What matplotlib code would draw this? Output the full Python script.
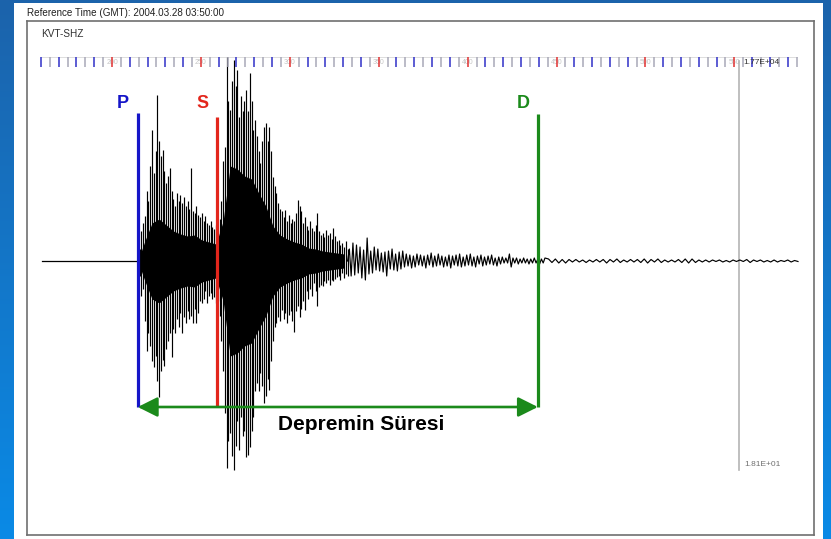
import numpy as np
import matplotlib.pyplot as plt
from matplotlib.colors import LinearSegmentedColormap
from matplotlib.patches import Rectangle

plt.rcParams["font.family"] = ["Liberation Sans", "DejaVu Sans"]

# Header texts of the seismogram viewer.
ref_time = "Reference Time (GMT): 2004.03.28 03:50:00"
station = "KVT-SHZ"
top_scale = "1.77E+04"
bottom_scale = "1.81E+01"
duration_label = "Depremin Süresi"

# Amplitudes below are given in hundreds of counts.
amp_unit = 100

# Times in seconds.
t_start, t_end = 160.5, 585.8
t_P, t_S, t_D = 214.5, 259.0, 439.5
t_cursor = 552.6

pick_names = ["P", "S", "D"]
pick_times = [t_P, t_S, t_D]
pick_tops = [148, 144, 147]
pick_colors = ["#1515c8", "#e3261c", "#1b8a1b"]
arrow_level = -146
label_level = 157

ruler_labels = [200, 250, 300, 350, 400, 450, 500, 550]

# Strong part of the record (P and S waves), one column per second: max / min.
burst_hi = [3, 12, 30, 38, 45, 70, 60, 95, 131, 88,
            110, 166, 120, 105, 111, 90, 78, 85, 93, 70,
            62, 55, 68, 60, 66, 58, 64, 55, 60, 52,
            93, 50, 48, 55, 46, 44, 48, 40, 45, 38,
            36, 40, 34, 32, 36, 30, 42, 60, 100, 114,
            204, 160, 151, 180, 201, 175, 191, 144, 165, 150,
            160, 171, 150, 188, 160, 131, 141, 125, 110, 98,
            120, 134, 138, 120, 134, 110, 84, 75, 68, 58,
            52, 50, 44, 51, 40, 46, 38, 42, 40, 48,
            61, 55, 50, 38, 44, 35, 31, 40, 33, 30,
            36, 48, 30, 26, 28, 24, 31, 26, 28, 22,
            33, 25, 20, 21, 16, 18, 14, 20, 12]
burst_lo = [3, 15, 35, 28, 60, 90, 72, 85, 100, 106,
            95, 120, 136, 110, 99, 105, 88, 80, 72, 96,
            68, 72, 58, 66, 52, 72, 56, 62, 50, 58,
            55, 62, 48, 62, 52, 40, 42, 38, 30, 42,
            35, 32, 38, 36, 42, 40, 55, 80, 110, 152,
            207, 180, 172, 195, 209, 185, 160, 189, 156, 175,
            170, 196, 194, 186, 170, 156, 130, 122, 130, 112,
            125, 142, 135, 118, 129, 100, 80, 66, 62, 56,
            60, 49, 58, 52, 62, 54, 50, 60, 71, 50,
            45, 56, 48, 40, 49, 30, 38, 28, 35, 22,
            30, 45, 26, 24, 25, 20, 22, 19, 24, 19,
            20, 18, 16, 15, 19, 12, 17, 13, 15]
# Solid dark core of the burst, every 4 seconds.
burst_core = [0, 20, 38, 42, 36, 30, 27, 25, 26, 21,
              19, 17, 40, 95, 92, 85, 82, 68, 55, 35,
              26, 22, 19, 17, 13, 12, 10, 9, 8, 7]

# Coda, one sample per second.
coda_amp = [12, -15, 18, -14, 16, -12, 14, -17, 11, -19,
            23, -13, 10, -12, 14, -9, 12, -10, 8, -11,
            9, -15, 10, -8, 12, -9, 7, -10, 9, -8,
            10, -6, 7, -5, 6, -7, 5, -6, 7, -4,
            6, -5, 5, -7, 6, -4, 8, -6, 5, -5,
            7, -4, 5, -6, 4, -5, 6, -7, 5, -4,
            6, -5, 7, -6, 4, -5, 6, -4, 7, -5,
            4, -6, 5, -3, 6, -5, 4, -4, 5, -3,
            6, -4, 3, -5, 4, -3, 4, -2, 3, -2,
            7, -6, 3, -2, 3, -3, 2, -2, 3, -2,
            2, -3, 2, -2, 3, -2, 2, -3, 2, -2, 3]

# Background noise after the event.
tail_amp = [2, -1.5, 2, -2, 1.5, -2,
            1.5, -1, 1.5, -1, 1, -1.5, 1, -1, 1.5, -1,
            1.5, -2, 1.5, -1, 2, -1.5, 1, -1, 1.5, -1,
            1.5, -1.5, 2, -2, 1.5, -1, 2, -1.5, 1, -1,
            1, -1, 1.5, -1.5, 2, -2, 2, -1.5, 1, -1,
            1, -1, 1, -0.5, 1, -1, 0.5, -1, 1, -0.5,
            1, -0.5, 1.5, -1.5, 1, -0.5, 1, -1, 0.5, -1,
            1, -1, 0.5, -0.5, 1, -1, 0.5, -0.5]

W, H = 831, 539
fig = plt.figure(figsize=(W / 100, H / 100), dpi=100)

# Blue slide background with a white panel on it.
bg = fig.add_axes([0, 0, 1, 1], zorder=-5)
blues = LinearSegmentedColormap.from_list("slide", ["#1c63ab", "#0a8ae6"])
bg.imshow(np.linspace(0, 1, 256).reshape(-1, 1), cmap=blues, aspect="auto",
          extent=[0, 1, 0, 1])
bg.add_patch(Rectangle((14 / W, 0), 809 / W, 536 / H, transform=bg.transAxes,
                       facecolor="white", edgecolor="none"))
bg.set_axis_off()

ax = fig.add_axes([27 / W, 4 / H, 787 / W, 514 / H])
ax.set_xlim(152.2, 594.8)
ax.set_ylim(-274 * amp_unit, 240 * amp_unit)
ax.set_xticks([])
ax.set_yticks([])
for s in ax.spines.values():
    s.set_color("#707070")
    s.set_linewidth(1.2)

# Waveform.
hi = np.array(burst_hi) * amp_unit
lo = np.array(burst_lo) * amp_unit
burst_t = t_P + np.arange(len(burst_hi))
core = np.array(burst_core) * amp_unit
core_t = t_P + 4 * np.arange(len(burst_core))
coda_t = burst_t[-1] + 1 + np.arange(len(coda_amp))
tail_t = np.linspace(coda_t[-1] + 2, t_end, len(tail_amp))

ax.plot([t_start, t_P], [0, 0], color="black", lw=0.9, zorder=2)
ax.vlines(burst_t, -lo, hi, color="black", lw=0.85, zorder=2)
ax.fill_between(core_t, -core, core, color="black", lw=0, zorder=2)
ax.plot(np.concatenate([[burst_t[-1]], coda_t, tail_t]),
        np.concatenate([[0], coda_amp, tail_amp]) * amp_unit,
        color="black", lw=0.85, zorder=2)

# Time ruler at the top.
ruler_top, ruler_bot = 204 * amp_unit, 194 * amp_unit
ticks = np.arange(160, 586, 5)
tick_colors = ["#e03030" if t % 50 == 0 else ("#3030c8" if t % 10 == 0 else "#a8a8b8")
               for t in ticks]
for lab in ruler_labels:
    ax.text(lab, 199 * amp_unit, str(lab), ha="center", va="center",
            fontsize=5, color="#c4c4c4", zorder=1)
ax.vlines(ticks, ruler_bot, ruler_top, colors=tick_colors, lw=1.1, zorder=2)
ax.plot([ticks[0], ticks[-1]], [ruler_top, ruler_top], color="#d8d8d8", lw=0.6, zorder=1)

# Cursor line and scale values.
ax.plot([t_cursor, t_cursor], [200 * amp_unit, -209 * amp_unit], color="#b4b4b4", lw=1.2, zorder=1)
ax.text(t_cursor + 2.3, 198 * amp_unit, top_scale, fontsize=6, color="#303030",
        va="center", ha="left", zorder=3)
ax.text(t_cursor + 2.8, -204 * amp_unit, bottom_scale, fontsize=6, color="#707070",
        va="center", ha="left", zorder=3)

# P / S / D picks.
for name, t, top, c in zip(pick_names, pick_times, pick_tops, pick_colors):
    ax.plot([t, t], [arrow_level * amp_unit, top * amp_unit], color=c, lw=2.3,
            zorder=3, solid_capstyle="butt")
    ax.text(t - 8.2, label_level * amp_unit, name, color=c, fontsize=13,
            fontweight="bold", ha="center", va="center", zorder=4)

ax.annotate("", xy=(t_D, arrow_level * amp_unit), xytext=(t_P, arrow_level * amp_unit),
            arrowprops=dict(arrowstyle="<|-|>,head_length=0.6,head_width=0.3",
                            color=pick_colors[2], lw=1.9, mutation_scale=20,
                            shrinkA=0, shrinkB=0), zorder=3)
ax.text((t_P + t_D) / 2 + 13, -164 * amp_unit, duration_label, fontsize=15,
        fontweight="bold", ha="center", va="center", zorder=4)

fig.text(27 / W, 1 - 13 / H, ref_time, fontsize=7.1, va="center", ha="left", color="#202020")
fig.text(41 / W, 1 - 34 / H, station, fontsize=7.2, va="center", ha="left", color="#303030")

fig.savefig("out.png", dpi=100)
